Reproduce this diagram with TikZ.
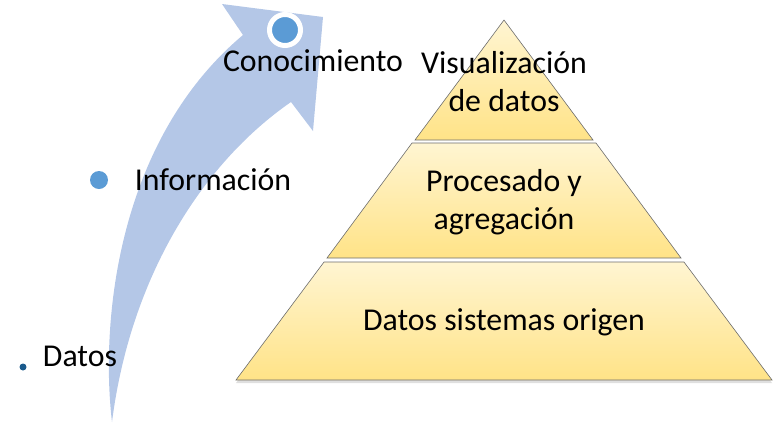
\documentclass[tikz,border=0pt]{standalone}
\usepackage{fontspec}
\setmainfont{Carlito}
\usetikzlibrary{shadows}
\definecolor{arrowblue}{RGB}{180,199,231}
\definecolor{dotblue}{RGB}{91,155,213}
\definecolor{darkdot}{RGB}{26,90,140}
\definecolor{layertop}{RGB}{255,245,210}
\definecolor{layerbot}{RGB}{255,227,135}

\begin{document}
\begin{tikzpicture}[x=1pt,y=-1pt,
    layer/.style={draw=gray!85!black,line width=0.6pt,top color=layertop,bottom color=layerbot},
    txt/.style={font=\fontsize{31.8}{38}\selectfont,align=center,inner sep=0pt}]
\useasboundingbox (0,0) rectangle (780,424);
% curved arrow
\fill[arrowblue] (112,422) .. controls (100,320) and (118,140) .. (243,35)
   -- (222,4) -- (323,17) -- (313,131) -- (291,102)
   .. controls (200,165) and (130,280) .. (112,422) -- cycle;
% dots
\node[circle,fill=darkdot,inner sep=0pt,minimum size=7pt] (datosdot) at (23,367) {};
\node[circle,fill=dotblue,inner sep=0pt,minimum size=18pt] (infodot) at (99,180) {};
\node[circle,fill=dotblue,draw=white,line width=5pt,inner sep=0pt,minimum size=31pt] (conodot) at (285,30) {};
% labels
\node[txt] (datos) at (80,356) {Datos};
\node[txt] (info) at (213,180) {Información};
\node[txt] (cono) at (313,61) {Conocimiento};
% pyramid
\draw[layer,drop shadow={opacity=0.25,shadow xshift=0pt,shadow yshift=-3pt}]
   (236,380) -- (324,262) -- (684,262) -- (772,380) -- cycle;
\draw[layer] (327,258) -- (412,143) -- (596,143) -- (681,258) -- cycle;
\draw[layer] (415,140) -- (504,20) -- (593,140) -- cycle;
\node[txt] (top) at (504,82) {Visualización\\de datos};
\node[txt] (mid) at (504,202) {Procesado y\\agregación};
\node[txt] (base) at (504,322) {Datos sistemas origen};
\end{tikzpicture}
\end{document}
